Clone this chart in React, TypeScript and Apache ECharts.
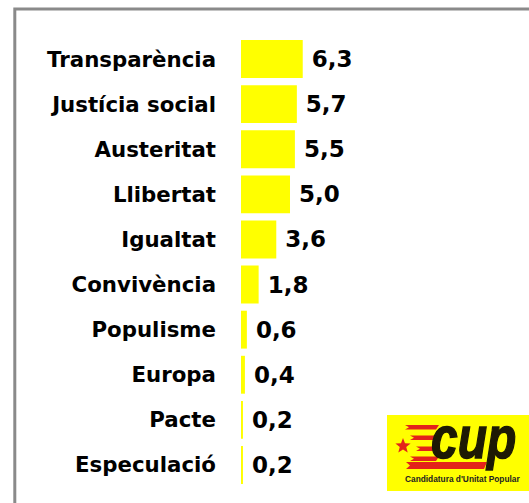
import React, { useEffect, useRef } from "react";
import * as echarts from "echarts";

const categories = [
  "Transparència",
  "Justícia social",
  "Austeritat",
  "Llibertat",
  "Igualtat",
  "Convivència",
  "Populisme",
  "Europa",
  "Pacte",
  "Especulació",
];
const values = [6.3, 5.7, 5.5, 5.0, 3.6, 1.8, 0.6, 0.4, 0.2, 0.2];
const logoTitle = "cup";
const logoSubtitle = "Candidatura d'Unitat Popular";

function starPoints(cx: number, cy: number, ro: number, ri: number) {
  const pts: number[][] = [];
  for (let i = 0; i < 10; i++) {
    const r = i % 2 === 0 ? ro : ri;
    const a = -Math.PI / 2 + (i * Math.PI) / 5;
    pts.push([cx + r * Math.cos(a), cy + r * Math.sin(a)]);
  }
  return pts;
}

export default function App() {
  const ref = useRef<HTMLDivElement>(null);
  useEffect(() => {
    document.body.style.margin = "0";
    const chart = echarts.init(ref.current!, null, { renderer: "svg" });
    const red = "#e3231a";
    const stripe = (x1: number, y1: number, x2: number, h: number, notch: number) => [
      [x1, y1],
      [x2 + 3, y1],
      [x2, y1 + h],
      [x1, y1 + h],
      [x1 + notch, y1 + h / 2],
    ];
    chart.setOption({
      animation: false,
      grid: { left: 241, right: 190, top: 36.5, bottom: 15.5 },
      xAxis: { type: "value", min: 0, max: 10, show: false },
      yAxis: {
        type: "category",
        inverse: true,
        data: categories,
        axisLine: { show: false },
        axisTick: { show: false },
        axisLabel: {
          margin: 25,
          fontSize: 21.3,
          fontWeight: "bold",
          fontFamily: "DejaVu Sans",
          color: "#000",
        },
      },
      series: [
        {
          type: "bar",
          data: values,
          barCategoryGap: "16%",
          itemStyle: { color: "#ffff00" },
          label: {
            show: true,
            position: "right",
            distance: 9,
            fontSize: 23,
            fontWeight: "bold",
            fontFamily: "DejaVu Sans",
            color: "#000",
            formatter: (p: any) => Number(p.value).toFixed(1).replace(".", ","),
          },
        },
      ],
      graphic: [
        {
          type: "rect",
          shape: { x: 14.8, y: 9, width: 700, height: 700 },
          style: { fill: "none", stroke: "#8a8a8a", lineWidth: 3 },
          silent: true,
        },
        {
          type: "rect",
          shape: { x: 387, y: 415, width: 142, height: 76 },
          style: { fill: "#ffff00" },
        },
        { type: "polygon", shape: { points: stripe(405, 425, 436, 4.5, 4) }, style: { fill: red } },
        { type: "polygon", shape: { points: stripe(410, 435.5, 436, 4.5, 4) }, style: { fill: red } },
        { type: "polygon", shape: { points: stripe(416, 446.5, 436, 4.5, 4) }, style: { fill: red } },
        { type: "polygon", shape: { points: stripe(410, 456.5, 436, 4.5, 4) }, style: { fill: red } },
        { type: "polygon", shape: { points: stripe(406, 462, 484, 7, 4) }, style: { fill: red } },
        {
          type: "polygon",
          shape: { points: starPoints(403, 446, 8, 3.4) },
          style: { fill: red },
        },
        {
          type: "text",
          x: 431,
          y: 468,
          scaleX: 0.8,
          style: {
            text: logoTitle,
            fontSize: 60,
            fontWeight: "bold",
            fontStyle: "italic",
            fontFamily: "Liberation Sans",
            fill: "#1d1a04",
            stroke: "#1d1a04",
            lineWidth: 1.5,
            verticalAlign: "bottom",
            align: "left",
          },
        },
        {
          type: "text",
          x: 405,
          y: 479,
          scaleX: 0.85,
          style: {
            text: logoSubtitle,
            fontSize: 9.8,
            fontWeight: "bold",
            fontFamily: "Liberation Sans",
            fill: "#222",
            verticalAlign: "middle",
            align: "left",
          },
        },
      ],
    });
    return () => chart.dispose();
  }, []);
  return <div ref={ref} style={{ width: 529, height: 503 }} />;
}
